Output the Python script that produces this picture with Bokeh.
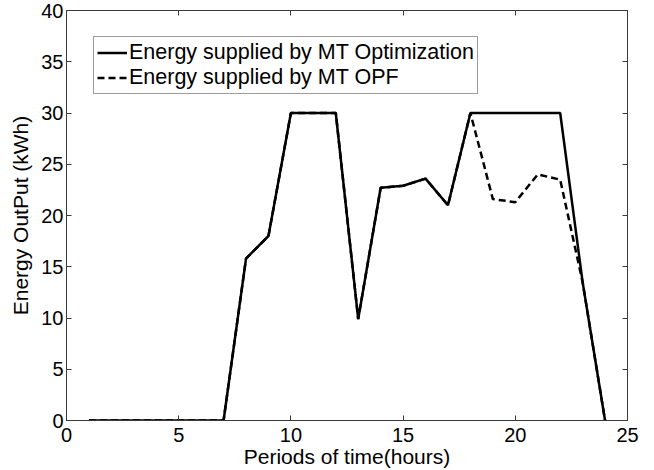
from bokeh.plotting import figure
from bokeh.models import Range1d, LinearAxis, FixedTicker, Legend, LegendItem, CustomJSTickFormatter
from bokeh.embed import file_html
from bokeh.resources import INLINE

hours = list(range(1, 25))
mt_optimization = [0, 0, 0, 0, 0, 0, 0, 15.8, 18.0, 30, 30, 30, 9.9, 22.7, 22.9, 23.6,
                   21.0, 30, 30, 30, 30, 30, 13.5, 0]
mt_opf = [0, 0, 0, 0, 0, 0, 0, 15.8, 18.0, 30, 30, 30, 9.9, 22.7, 22.9, 23.6,
          21.0, 30, 21.6, 21.3, 24.0, 23.5, 13.5, 0]
x_ticks = [0, 5, 10, 15, 20, 25]
y_ticks = [0, 5, 10, 15, 20, 25, 30, 35, 40]

FONT = "Liberation Sans"
AX = "#3a3a3a"

p = figure(width=650, height=470, output_backend="svg", toolbar_location=None,
           x_range=Range1d(0, 25), y_range=Range1d(0, 40),
           min_border_left=66, min_border_right=23, min_border_top=10, min_border_bottom=49)
p.background_fill_color = "white"
p.border_fill_color = "white"
p.outline_line_color = AX
p.outline_line_width = 1
p.xgrid.visible = False
p.ygrid.visible = False

for ax, ticks in ((p.xaxis[0], x_ticks), (p.yaxis[0], y_ticks)):
    ax.ticker = FixedTicker(ticks=ticks)
    ax.minor_tick_line_color = None
    ax.major_tick_in = 5
    ax.major_tick_out = 0
    ax.axis_line_color = AX
    ax.major_tick_line_color = AX
    ax.major_label_text_font = FONT
    ax.major_label_text_font_size = "20px"
    ax.major_label_text_color = "black"
    ax.axis_label_text_font = FONT
    ax.axis_label_text_font_size = "21px"
    ax.axis_label_text_font_style = "normal"
    ax.axis_label_text_color = "black"
    ax.axis_label_standoff = 0

p.xaxis.major_label_standoff = 7
p.yaxis.major_label_standoff = 3
p.yaxis.axis_label_standoff = 6
p.xaxis.axis_label = "Periods of time(hours)"
p.yaxis.axis_label = "Energy OutPut (kWh)"

for loc, ticks in (("above", x_ticks), ("right", y_ticks)):
    a = LinearAxis(ticker=FixedTicker(ticks=ticks),
                   formatter=CustomJSTickFormatter(code="return ''"))
    a.minor_tick_line_color = None
    a.major_tick_in = 5
    a.major_tick_out = 0
    a.axis_line_color = AX
    a.major_tick_line_color = AX
    a.major_label_text_font_size = "1px"
    a.major_label_standoff = 0
    p.add_layout(a, loc)

r_opf = p.line(hours, mt_opf, line_color="black", line_width=2.5, line_dash="7 4")
r_opt = p.line(hours, mt_optimization, line_color="black", line_width=2.5)

legend = Legend(items=[LegendItem(label="Energy supplied by MT Optimization", renderers=[r_opt]),
                       LegendItem(label="Energy supplied by MT OPF", renderers=[r_opf])],
                location=(27, 326))
legend.label_text_font = FONT
legend.label_text_font_size = "21.5px"
legend.label_text_color = "black"
legend.glyph_width = 30
legend.glyph_height = 23
legend.label_height = 23
legend.label_standoff = 2
legend.padding = 3
legend.spacing = 0
legend.margin = 0
legend.border_line_color = AX
legend.border_line_width = 1
legend.background_fill_alpha = 1
p.add_layout(legend, "center")

open("out.html", "w").write(file_html(p, INLINE))
